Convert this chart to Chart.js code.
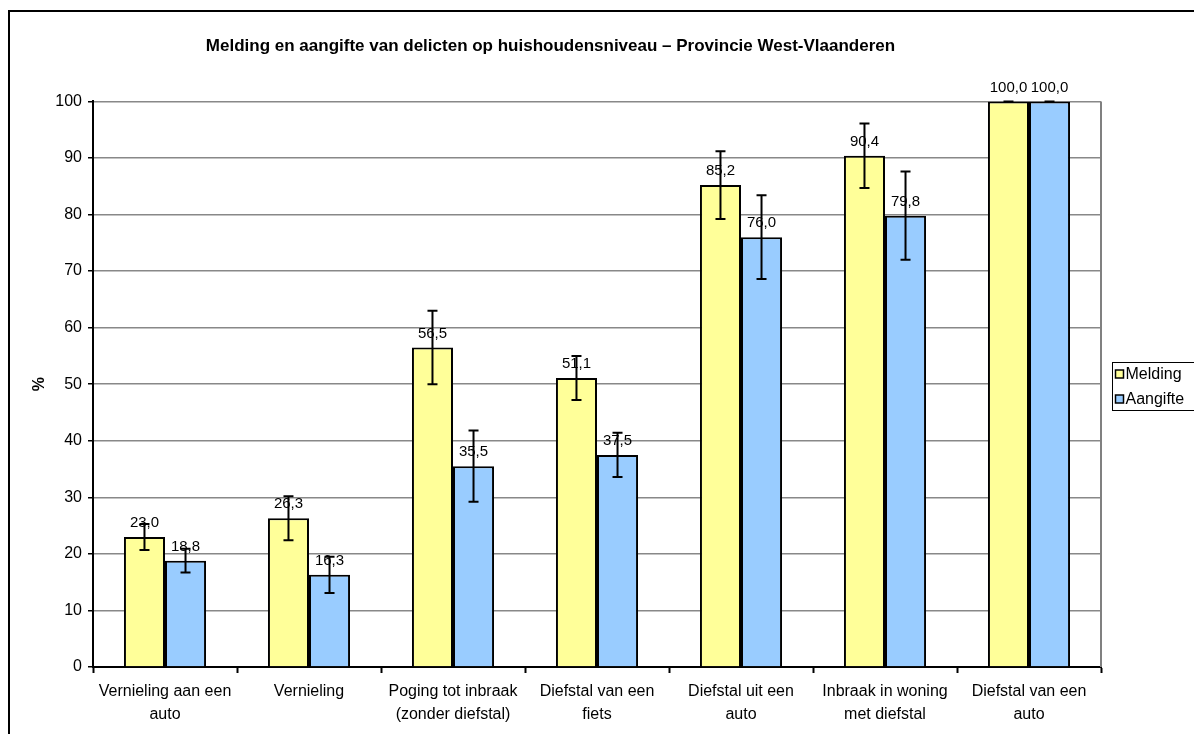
<!DOCTYPE html>
<html><head><meta charset="utf-8">
<script src="https://cdn.jsdelivr.net/npm/chart.js@4"></script>
<style>html,body{margin:0;padding:0;background:#fff;overflow:hidden}#wrap{width:1194px;height:734px;position:relative}</style>
</head><body><div id="wrap"><canvas id="c" width="1194" height="734"></canvas></div>
<script>
const chartTitle = "Melding en aangifte van delicten op huishoudensniveau – Provincie West-Vlaanderen";
const categories = [["Vernieling aan een","auto"],["Vernieling"],["Poging tot inbraak","(zonder diefstal)"],["Diefstal van een","fiets"],["Diefstal uit een","auto"],["Inbraak in woning","met diefstal"],["Diefstal van een","auto"]];
const seriesNames = ["Melding","Aangifte"];
const seriesColors = ["#FFFF99","#99CCFF"];
const meldingValues = [23.0, 26.3, 56.5, 51.1, 85.2, 90.4, 100.0];
const aangifteValues = [18.8, 16.3, 35.5, 37.5, 76.0, 79.8, 100.0];
const meldingErrors = [2.3, 3.9, 6.5, 3.9, 6.0, 5.7, 0];
const aangifteErrors = [2.1, 3.2, 6.3, 3.9, 7.4, 7.8, 0];
const yMin = 0, yMax = 100, yStep = 10;
const yAxisTitle = "%";

const FONT = '"Liberation Sans", Arial, Helvetica, sans-serif';
Chart.defaults.font.family = FONT;
Chart.defaults.color = '#000';

const extras = {
  id: 'extras',
  beforeDraw(chart) {
    const ctx = chart.ctx;
    ctx.save();
    ctx.fillStyle = '#fff';
    ctx.fillRect(0, 0, chart.width, chart.height);
    ctx.strokeStyle = '#000';
    ctx.lineWidth = 2;
    ctx.beginPath();
    ctx.moveTo(9, chart.height + 5);
    ctx.lineTo(9, 11);
    ctx.lineTo(chart.width + 5, 11);
    ctx.stroke();
    ctx.restore();
  },
  afterDatasetsDraw(chart) {
    const ctx = chart.ctx;
    const y = chart.scales.y;
    const errs = [meldingErrors, aangifteErrors];
    ctx.save();
    chart.data.datasets.forEach((ds, i) => {
      const meta = chart.getDatasetMeta(i);
      meta.data.forEach((bar, j) => {
        const v = ds.data[j], e = errs[i][j];
        const x = bar.x;
        const yt = y.getPixelForValue(v + e), yb = y.getPixelForValue(v - e);
        ctx.strokeStyle = '#000';
        ctx.lineWidth = 2;
        ctx.beginPath();
        ctx.moveTo(x, yt); ctx.lineTo(x, yb);
        ctx.moveTo(x - 5, yt); ctx.lineTo(x + 5, yt);
        ctx.moveTo(x - 5, yb); ctx.lineTo(x + 5, yb);
        ctx.stroke();
        ctx.fillStyle = '#000';
        ctx.font = '15px ' + FONT;
        ctx.textAlign = 'center';
        ctx.textBaseline = 'middle';
        ctx.fillText(v.toFixed(1).replace('.', ','), x, y.getPixelForValue(v) - 14);
      });
    });
    ctx.restore();
  },
  afterDraw(chart) {
    const ctx = chart.ctx;
    const a = chart.chartArea;
    ctx.save();
    ctx.strokeStyle = '#808080';
    ctx.lineWidth = 2;
    ctx.beginPath();
    ctx.moveTo(a.right, a.top); ctx.lineTo(a.right, a.bottom);
    ctx.stroke();
    // legend
    const lx = 1112.5, ly = 362.5, lw = 100, lh = 48;
    ctx.fillStyle = '#fff';
    ctx.fillRect(lx, ly, lw, lh);
    ctx.strokeStyle = '#000';
    ctx.lineWidth = 1;
    ctx.strokeRect(lx, ly, lw, lh);
    ctx.font = '16px ' + FONT;
    ctx.textAlign = 'left';
    ctx.textBaseline = 'middle';
    chart.data.datasets.forEach((ds, i) => {
      const cy = 374 + i * 25;
      ctx.fillStyle = ds.backgroundColor;
      ctx.fillRect(lx + 3, cy - 4, 8, 8);
      ctx.strokeStyle = '#000';
      ctx.lineWidth = 1.5;
      ctx.strokeRect(lx + 3, cy - 4, 8, 8);
      ctx.fillStyle = '#000';
      ctx.fillText(ds.label, lx + 13, cy + 1);
    });
    ctx.restore();
  }
};

new Chart(document.getElementById('c'), {
  type: 'bar',
  data: {
    labels: categories,
    datasets: [
      { label: seriesNames[0], data: meldingValues, backgroundColor: seriesColors[0], borderColor: '#000', borderWidth: 2 },
      { label: seriesNames[1], data: aangifteValues, backgroundColor: seriesColors[1], borderColor: '#000', borderWidth: 2 }
    ]
  },
  options: {
    responsive: false,
    animation: false,
    devicePixelRatio: 1,
    layout: { padding: { left: 0, right: 93, top: 0, bottom: 0 } },
    datasets: { bar: { categoryPercentage: 0.57, barPercentage: 1.0 } },
    plugins: {
      legend: { display: false },
      tooltip: { enabled: false },
      title: {
        display: true, text: chartTitle, color: '#000',
        font: { size: 17, weight: 'bold', family: FONT, lineHeight: 1.2 },
        padding: { top: 36, bottom: 45 }
      }
    },
    scales: {
      x: {
        grid: { display: true, drawOnChartArea: false, drawTicks: true, tickLength: 6, tickColor: '#000', tickWidth: 2, offset: true },
        border: { display: true, color: '#000', width: 2 },
        ticks: { color: '#000', font: { size: 16, family: FONT, lineHeight: 1.44 }, padding: 7, maxRotation: 0, autoSkip: false },
        afterFit(s) { s.height = 67; }
      },
      y: {
        min: yMin, max: yMax,
        grid: { color: '#888', lineWidth: 1.5, drawTicks: true, tickLength: 5, tickColor: '#000', tickWidth: 1.5 },
        border: { display: true, color: '#000', width: 2 },
        ticks: { stepSize: yStep, color: '#000', font: { size: 16, family: FONT }, padding: 6 },
        title: { display: true, text: yAxisTitle, color: '#000', font: { size: 16, weight: 'bold', family: FONT, lineHeight: 1.2 }, padding: { top: 30, bottom: 0 } },
        afterFit(s) { s.width = 93; }
      }
    }
  },
  plugins: [extras]
});
</script></body></html>
